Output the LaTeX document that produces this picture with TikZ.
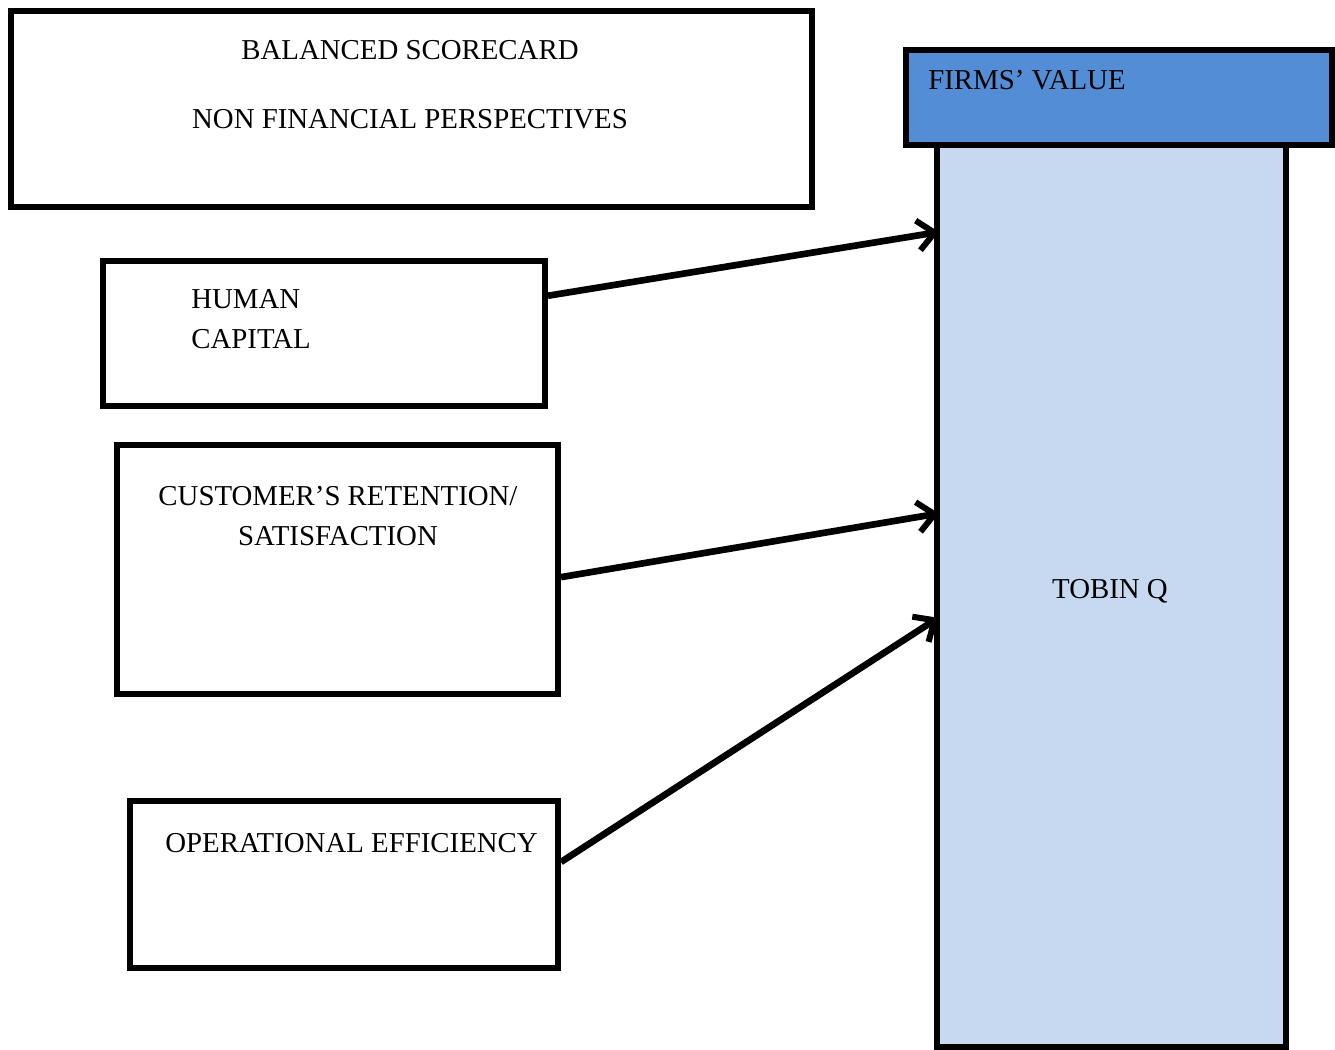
\documentclass[tikz,border=0pt]{standalone}
\usepackage{fontspec}
\setmainfont{Liberation Serif}
\usetikzlibrary{arrows.meta,calc}
\definecolor{hdrblue}{RGB}{83,141,213}
\definecolor{colblue}{RGB}{198,217,241}
\begin{document}
\begin{tikzpicture}[x=0.6pt,y=-0.6pt,
  box/.style={draw=black,line width=3.6pt,fill=white,inner sep=0pt},
  lbl/.style={font=\fontsize{17.3}{24}\selectfont,inner sep=0pt},
  conn/.style={line width=4pt,shorten >=-3pt,-{Straight Barb[length=10pt,width=18pt,line width=3.6pt]}}]
\useasboundingbox (0,0) rectangle (1335,1050);
% top box
\node[box,minimum width=801*0.6pt,minimum height=196*0.6pt] (bsc) at (411.5,109) {};
\node[lbl] (bsct) at (410,50) {BALANCED SCORECARD};
\node[lbl] (nfp) at (410,119) {NON FINANCIAL PERSPECTIVES};
% column
\node[box,fill=colblue,minimum width=349*0.6pt,minimum height=902*0.6pt] (tq) at (1111.5,596) {};
\node[lbl] (tqt) at (1110,591) {TOBIN Q};
% header
\node[box,fill=hdrblue,minimum width=426*0.6pt,minimum height=95*0.6pt] (fv) at (1119,97.5) {};
\node[lbl,anchor=west] (fvt) at (928,80) {FIRMS’ VALUE};
% left boxes
\node[box,minimum width=442*0.6pt,minimum height=145*0.6pt] (hc) at (324,333.5) {};
\node[lbl,anchor=north west,align=left] (hct) at (191,289) {HUMAN\\CAPITAL};
\node[box,minimum width=441*0.6pt,minimum height=249*0.6pt] (cr) at (337.5,569.5) {};
\node[lbl,anchor=north,align=center] (crt) at (338,486) {CUSTOMER’S RETENTION/\\SATISFACTION};
\node[box,minimum width=428*0.6pt,minimum height=167*0.6pt] (oe) at (344,884.5) {};
\node[lbl,anchor=west] (oet) at (165,843) {OPERATIONAL EFFICIENCY};
% connectors
\draw[conn] ($(hc.north east)!0.25!(hc.south east)$) -- ($(tq.north west)!0.1!(tq.south west)$);
\draw[conn] ($(cr.north east)!0.53!(cr.south east)$) -- ($(tq.north west)!0.41!(tq.south west)$);
\draw[conn] ($(oe.north east)!0.37!(oe.south east)$) -- ($(tq.north west)!0.527!(tq.south west)$);
\end{tikzpicture}
\end{document}
